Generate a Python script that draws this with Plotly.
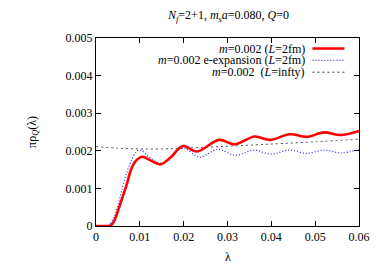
import plotly.graph_objects as go

# Red: m=0.002 (L=2fm)
lam_red = [0.0, 0.002, 0.0031, 0.004, 0.005, 0.006, 0.007, 0.008, 0.009, 0.0105,
           0.0125, 0.0147, 0.017, 0.0198, 0.023, 0.0281, 0.0316, 0.0362, 0.0397,
           0.0442, 0.0481, 0.052, 0.0558, 0.06]
rho_red = [0.0, 0.0, 0.0, 0.0001, 0.0004, 0.00075, 0.0011, 0.0015, 0.00172, 0.00184,
           0.00174, 0.00164, 0.00182, 0.00213, 0.00198, 0.00229, 0.00217, 0.00238, 0.00229,
           0.00244, 0.00237, 0.00249, 0.00242, 0.00253]

# Blue dotted: m=0.002 e-expansion (L=2fm)
lam_blue = [0.0, 0.002, 0.003, 0.004, 0.005, 0.006, 0.007, 0.008, 0.009, 0.0098, 0.0106,
            0.0118, 0.0148, 0.017, 0.0197, 0.0237, 0.0277, 0.0318, 0.0359, 0.040, 0.044,
            0.048, 0.0521, 0.056, 0.06]
rho_blue = [0.0, 0.0, 0.00004, 0.0002, 0.00055, 0.001, 0.00142, 0.00172, 0.00195, 0.00202, 0.00199,
            0.00186, 0.00167, 0.00181, 0.00208, 0.00183, 0.00204, 0.00188, 0.00202, 0.00191, 0.00202,
            0.00193, 0.00202, 0.00194, 0.00204]

# Gray dashed: m=0.002 (L=infty)
lam_inf = [0.0, 0.005, 0.01, 0.015, 0.02, 0.03, 0.04, 0.05, 0.06]
rho_inf = [0.00211, 0.00207, 0.00205, 0.00205, 0.00207, 0.00212, 0.00218, 0.00224, 0.00231]

x_ticks = [0, 0.01, 0.02, 0.03, 0.04, 0.05, 0.06]
x_labels = ["0", "0.01", "0.02", "0.03", "0.04", "0.05", "0.06"]
y_ticks = [0, 0.001, 0.002, 0.003, 0.004, 0.005]
y_labels = ["0", "0.001", "0.002", "0.003", "0.004", "0.005"]

legend_labels = ["<i>m</i>=0.002 (<i>L</i>=2fm)",
                 "<i>m</i>=0.002 e-expansion (<i>L</i>=2fm)",
                 "<i>m</i>=0.002  (<i>L</i>=infty)"]

FONT = "Liberation Serif"
OFF = 8  # page body margin
W, H = 374, 259
L, R, T, B = 88, 15, 30, 41
pw, ph = W - L - R, H - T - B

fig = go.Figure()
fig.add_trace(go.Scatter(x=lam_inf, y=rho_inf, mode="lines",
                         line=dict(color="#555555", width=1, dash="2px,3px", shape="spline"),
                         showlegend=False))
fig.add_trace(go.Scatter(x=lam_blue, y=rho_blue, mode="lines",
                         line=dict(color="#2a2aff", width=1.2, dash="1px,2px", shape="spline", smoothing=0.9),
                         showlegend=False))
fig.add_trace(go.Scatter(x=lam_red, y=rho_red, mode="lines",
                         line=dict(color="#ff0000", width=2.6, shape="spline", smoothing=1.0),
                         showlegend=False))

def px_to_paper(xp, yp):
    xp -= OFF
    yp -= OFF
    return (xp - L) / pw, (T + ph - yp) / ph

# Manual legend (text right aligned, sample on the right)
styles = [dict(color="#ff0000", width=2.6),
          dict(color="#2a2aff", width=1.2, dash="1px,2px"),
          dict(color="#333333", width=1, dash="2px,3px")]
rows_y = [48.5, 60.3, 72.2]
for lab, st, yp in zip(legend_labels, styles, rows_y):
    tx, ty = px_to_paper(312, yp)
    fig.add_annotation(x=tx, y=ty, xref="paper", yref="paper", text=lab,
                       showarrow=False, xanchor="right", yanchor="middle", borderpad=0,
                       font=dict(family=FONT, size=12, color="black"))
    x0, yy = px_to_paper(319, yp)
    x1, _ = px_to_paper(352, yp)
    fig.add_shape(type="line", xref="paper", yref="paper", x0=x0, x1=x1, y0=yy, y1=yy,
                  line=st)

# Title
tx, ty = px_to_paper(232, 16)
fig.add_annotation(x=tx, y=ty, xref="paper", yref="paper",
                   text="<i>N<sub>f</sub></i>=2+1, <i>m<sub>s</sub>a</i>=0.080, <i>Q</i>=0",
                   showarrow=False, xanchor="center", yanchor="middle",
                   font=dict(family=FONT, size=12, color="black"))
# Axis titles
tx, ty = px_to_paper(232, 257)
fig.add_annotation(x=tx, y=ty, xref="paper", yref="paper", text="λ",
                   showarrow=False, xanchor="center", yanchor="middle",
                   font=dict(family=FONT, size=12, color="black"))
tx, ty = px_to_paper(31, 132)
fig.add_annotation(x=tx, y=ty, xref="paper", yref="paper", text="πρ<sub><i>Q</i></sub>(λ)",
                   showarrow=False, xanchor="center", yanchor="middle", textangle=-90,
                   font=dict(family=FONT, size=12, color="black"))

axis_common = dict(showline=True, linecolor="black", linewidth=1, mirror="allticks",
                   ticks="inside", ticklen=5, tickcolor="black", tickwidth=1,
                   showgrid=False, zeroline=False,
                   tickfont=dict(family=FONT, size=12, color="black"))
fig.update_xaxes(range=[0, 0.06], tickvals=x_ticks, ticktext=x_labels, **axis_common)
fig.update_yaxes(range=[0, 0.005], tickvals=y_ticks, ticktext=y_labels, **axis_common)

fig.update_layout(width=W, height=H, margin=dict(l=L, r=R, t=T, b=B),
                  plot_bgcolor="white", paper_bgcolor="white", showlegend=False,
                  font=dict(family=FONT, color="black"))

fig.write_html("out.html")
